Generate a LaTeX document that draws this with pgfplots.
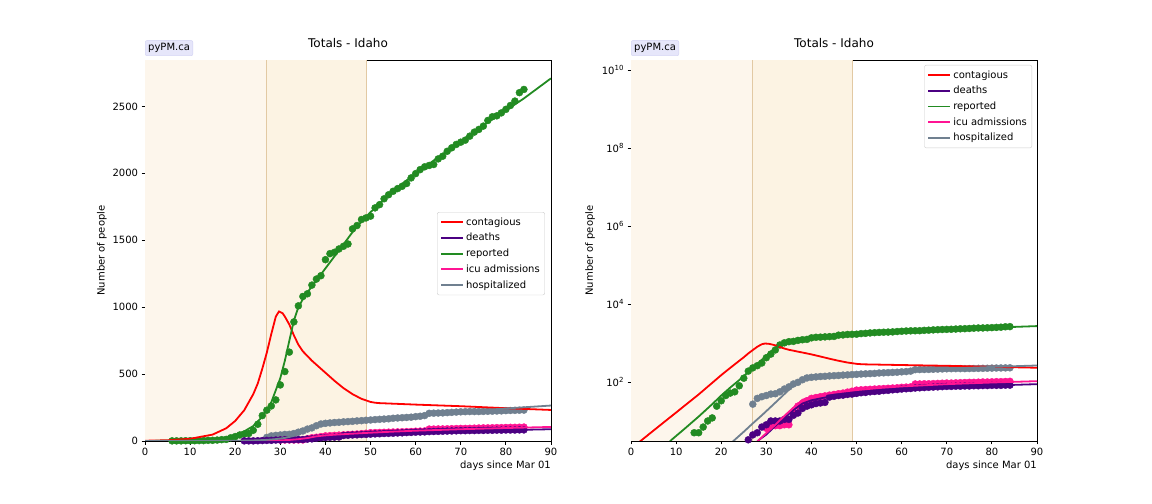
\documentclass[border=0pt]{standalone}
\usepackage{pgfplots}
\pgfplotsset{compat=1.18}
\usepackage{pgfplotstable}
\usepackage{fontspec}
\setmainfont{DejaVu Sans}

\definecolor{cont}{HTML}{FF0000}
\definecolor{dth}{HTML}{4B0082}
\definecolor{rep}{HTML}{228B22}
\definecolor{icu}{HTML}{FF1493}
\definecolor{hos}{HTML}{708090}
\definecolor{shadeA}{HTML}{FDF6EC}
\definecolor{shadeB}{HTML}{FCF3E3}
\definecolor{shadeEdge}{HTML}{E2C9A3}
\definecolor{lav}{HTML}{E6E6FA}
\definecolor{lavedge}{HTML}{D2D2F2}

% ---------- observed data ----------
\pgfplotstableread{
day val
6 1
7 1
8 1
9 2
10 2
11 2
12 3
13 3
14 5
15 5
16 7
17 10
18 12
19 24
20 33
21 45
22 52
23 56
24 80
25 125
26 190
27 230
28 262
29 307
30 419
31 519
32 664
33 890
34 1010
35 1080
36 1100
37 1165
38 1210
39 1235
40 1355
41 1400
42 1410
43 1435
44 1455
45 1472
46 1585
47 1610
48 1655
49 1667
50 1680
51 1742
52 1766
53 1810
54 1840
55 1866
56 1886
57 1903
58 1924
59 1966
60 1998
61 2028
62 2049
63 2059
64 2066
65 2108
66 2128
67 2165
68 2191
69 2216
70 2233
71 2248
72 2278
73 2308
74 2328
75 2353
76 2395
77 2423
78 2430
79 2452
80 2478
81 2507
82 2540
83 2603
84 2627
}\repdata

\pgfplotstableread{
day val
22 1
23 1
24 1
25 2
26 3.3
27 4.4
28 5
29 7
30 8
31 10
32 10
33 10
34 11
35 11
36 14
37 16
38 21
39 24
40 26
41 28
42 29
43 30
44 41
45 43
46 45
47 46
48 48
49 49
50 51
51 53
52 54
53 56
54 57
55 58
56 60
57 61
58 63
59 64
60 66
61 67
62 68
63 70
64 71
65 72
66 73
67 74
68 75
69 76
70 77
71 77
72 78
73 78
74 79
75 79
76 80
77 80
78 81
79 81
80 82
81 82
82 82
83 83
84 83
}\dthdata

\pgfplotstableread{
day val
30 6.5
31 7.6
32 7.6
33 7.6
34 8
35 8
36 17
37 24
38 28
39 33
40 38
41 40
42 42
43 44
44 46
45 48
46 50
47 52
48 55
49 58
50 62
51 63
52 64
53 65
54 66
55 67
56 68
57 69
58 70
59 71
60 73
61 74
62 75
63 89
64 89
65 90
66 90
67 91
68 92
69 93
70 94
71 94
72 95
73 96
74 97
75 98
76 98
77 99
78 100
79 100
80 101
81 102
82 102
83 103
84 104
}\icudata

\pgfplotstableread{
day val
27 27
28 38
29 42
30 45
31 49
32 50
33 56
34 66
35 75
36 89
37 98
38 114
39 127
40 132
41 135
42 138
43 140
44 143
45 145
46 147
47 150
48 152
49 155
50 157
51 160
52 162
53 164
54 166
55 170
56 172
57 174
58 176
59 178
60 182
61 185
62 190
63 207
64 208
65 209
66 210
67 212
68 214
69 216
70 218
71 219
72 220
73 220
74 220
75 221
76 222
77 223
78 224
79 225
80 227
81 228
82 229
83 230
84 231
}\hosdata

% ---------- model curves ----------
\pgfplotstableread{
day val
0 1.95
5 5.7
10 16.5
15 48
18 95
20 150
22 230
24 350
25 430
26 540
27 660
28 800
29 930
29.7 968
30.5 955
31 930
32 870
33 790
34 720
35 670
36 635
37 600
38 570
40 510
42 450
44 395
46 350
48 315
50 292
51 286
52 283
60 272
70 260
80 245
90 232
}\contmod

\pgfplotstableread{
day val
0 0.37
5 1.2
9 3.3
12 6.5
15 13
18 27
20 45
22 72
24 112
26 180
28 290
30 470
31 600
32 750
33 900
34 1000
35 1060
36 1110
38 1200
40 1290
42 1380
44 1470
46 1560
48 1640
50 1710
55 1870
60 2000
65 2120
70 2240
75 2360
80 2470
84 2560
90 2710
}\repmod

\pgfplotstableread{
day val
0 0.003
10 0.03
20 0.4
28.4 3.3
30 4.5
32 7.5
34 12
36 19
38 28
40 34
42 38
45 44
50 52
55 58
60 64
70 73
80 81
90 88
}\dthmod

\pgfplotstableread{
day val
0 0.003
10 0.03
20 0.4
28.4 3.3
30 4.9
32 8
34 13.5
36 22
38 35
40 42
42 47
45 53
50 62
55 70
60 77
70 88
80 97
90 105
}\icumod

\pgfplotstableread{
day val
0 0.008
10 0.13
20 1.55
23 3.3
25 5.3
27 8.7
29 14
31 23
33 38
35 63
37 100
39 118
42 138
45 152
50 168
55 182
60 195
70 220
80 243
90 265
}\hosmod

\pgfplotsset{
  common/.style={
    scale only axis, width=406bp, height=381bp, anchor=south west,
    xmin=0, xmax=90, xtick={0,10,...,90},
    xtick pos=lower, ytick pos=left,
    tick align=outside, major tick length=3.5bp,
    tick style={black, line width=0.8bp},
    axis line style={line width=0.8bp},
    font=\fontsize{10bp}{12bp}\selectfont,
    title={Totals - Idaho},
    title style={font=\fontsize{12bp}{14bp}\selectfont, at={(0.5,1)}, anchor=south, yshift=3bp},
    xlabel={days since Mar 01},
    xlabel style={at={(axis description cs:1,0)}, anchor=north east, yshift=-20bp, inner sep=0pt},
    ylabel={Number of people},
    /pgf/number format/assume math mode=true,
    /pgf/number format/1000 sep={},
    legend style={draw=black!20, rounded corners=2bp, fill=white, fill opacity=0.8,
      text opacity=1, font=\fontsize{10bp}{12bp}\selectfont, row sep=2.6bp,
      inner xsep=3bp, inner ysep=3.5bp},
    legend cell align=left,
    legend image code/.code={\draw[##1, line width=1.8bp] (0bp,0bp) -- (22bp,0bp);},
    clip mode=individual,
  },
  pts/.style={only marks, mark=*, mark size=3.5bp, forget plot, draw=#1, fill=#1, color=#1},
  mdl/.style={#1, no marks, line width=1.8bp},
}

\begin{document}
\begin{tikzpicture}
\path[use as bounding box] (0,0) rectangle (1152bp,504bp);

% ================= left: linear =================
\begin{axis}[common, name=L, at={(145bp,63bp)},
  ymin=0, ymax=2847, ytick={0,500,...,2500},
  ylabel style={at={(axis description cs:-0.106,0.5)}, anchor=center},
  legend style={at={(0.985,0.601)}, anchor=north east}]
\addplot[fill=shadeA, draw=none, forget plot, line width=0pt] coordinates {(0,0) (27,0) (27,2847) (0,2847)} -- cycle;
\addplot[fill=shadeB, draw=none, forget plot, line width=0pt] coordinates {(27,0) (49,0) (49,2847) (27,2847)} -- cycle;
\addplot[shadeEdge, line width=1bp, forget plot] coordinates {(27,0) (27,2847)};
\addplot[shadeEdge, line width=1bp, forget plot] coordinates {(49,0) (49,2847)};

\addplot[pts=rep] table[x=day,y=val] {\repdata};
\addplot[pts=hos] table[x=day,y=val] {\hosdata};
\addplot[pts=icu] table[x=day,y=val] {\icudata};
\addplot[pts=dth] table[x=day,y=val] {\dthdata};

\addplot[mdl=cont] table[x=day,y=val] {\contmod};
\addplot[mdl=dth] table[x=day,y=val] {\dthmod};
\addplot[mdl=rep] table[x=day,y=val] {\repmod};
\addplot[mdl=icu] table[x=day,y=val] {\icumod};
\addplot[mdl=hos] table[x=day,y=val] {\hosmod};
\legend{contagious, deaths, reported, icu admissions, hospitalized}
\end{axis}

% ================= right: log =================
\begin{axis}[common, name=R, at={(631bp,63bp)},
  ymode=log, log basis y=10, ymin=3.07, ymax=1.8e10,
  ytick={1e2,1e4,1e6,1e8,1e10},
  yticklabels={10\textsuperscript{2},10\textsuperscript{4},10\textsuperscript{6},10\textsuperscript{8},10\textsuperscript{10}},
  yminorticks=false,
  ylabel style={at={(axis description cs:-0.101,0.5)}, anchor=center},
  legend style={at={(0.988,0.987)}, anchor=north east}]
\addplot[fill=shadeA, draw=none, forget plot, line width=0pt] coordinates {(0,3.07) (27,3.07) (27,1.8e10) (0,1.8e10)} -- cycle;
\addplot[fill=shadeB, draw=none, forget plot, line width=0pt] coordinates {(27,3.07) (49,3.07) (49,1.8e10) (27,1.8e10)} -- cycle;
\addplot[shadeEdge, line width=1bp, forget plot] coordinates {(27,3.07) (27,1.8e10)};
\addplot[shadeEdge, line width=1bp, forget plot] coordinates {(49,3.07) (49,1.8e10)};

\addplot[pts=rep] table[x=day,y=val] {\repdata};
\addplot[pts=hos] table[x=day,y=val] {\hosdata};
\addplot[pts=icu] table[x=day,y=val] {\icudata};
\addplot[pts=dth] table[x=day,y=val] {\dthdata};

\addplot[mdl=cont] table[x=day,y=val] {\contmod};
\addplot[mdl=dth] table[x=day,y=val] {\dthmod};
\addplot[mdl=rep] table[x=day,y=val] {\repmod};
\addplot[mdl=icu] table[x=day,y=val] {\icumod};
\addplot[mdl=hos] table[x=day,y=val] {\hosmod};
\legend{contagious, deaths, reported, icu admissions, hospitalized}
\end{axis}

\foreach \ax in {L,R}{
  \node[fill=lav, draw=lavedge, rounded corners=2bp, inner xsep=3bp, inner ysep=3bp,
        anchor=south west, font=\fontsize{10bp}{12bp}\selectfont]
    at ([yshift=4bp]\ax.north west) {pyPM.ca};
}
\end{tikzpicture}
\end{document}
